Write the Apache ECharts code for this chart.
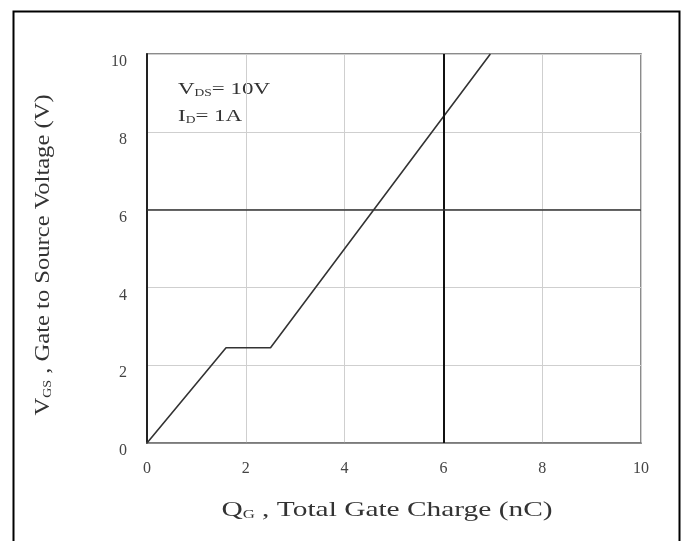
<!DOCTYPE html>
<html>
<head>
<meta charset="utf-8">
<script src="https://cdn.jsdelivr.net/npm/echarts@6/dist/echarts.min.js"></script>
<style>
  html, body { margin: 0; padding: 0; background: #fff; }
  #chart { width: 683px; height: 541px; }
</style>
</head>
<body>
<div id="chart"></div>
<script>
// Gate charge curve: V_GS versus total gate charge Q_G
const gateCharge = [0, 1.6, 2.5, 6.95];      // nC
const gateVoltage = [0, 2.45, 2.45, 10];      // V
const xTicks = [0, 2, 4, 6, 8, 10];
const yTicks = [0, 2, 4, 6, 8, 10];
// Reference lines drawn heavier than the grid
const markX = [6];
const markY = [6];

const serif = '"Liberation Serif", "DejaVu Serif", serif';

const chart = echarts.init(document.getElementById('chart'));

const subRich = (size, sub) => ({
  m: { fontFamily: serif, fontSize: size, fill: '#333' },
  s: { fontFamily: serif, fontSize: sub, fill: '#333', verticalAlign: 'bottom', padding: [Math.round(size * 0.4), 0, 0, 0] }
});

chart.setOption({
  animation: false,
  backgroundColor: '#fff',
  grid: {
    left: 147, right: 42, top: 54, bottom: 98,
    show: true, borderColor: '#666', borderWidth: 1.5
  },
  xAxis: {
    type: 'value', min: xTicks[0], max: xTicks[xTicks.length - 1], interval: 2,
    axisLine: { show: true, lineStyle: { color: '#777', width: 1.5 } },
    axisTick: { show: false },
    axisLabel: {
      margin: 18, fontFamily: serif, fontSize: 16, color: '#444',
      formatter: v => String(v)
    },
    splitLine: { show: true, lineStyle: { color: '#cfcfcf', width: 1 } }
  },
  yAxis: {
    type: 'value', min: yTicks[0], max: yTicks[yTicks.length - 1], interval: 2,
    axisLine: { show: true, lineStyle: { color: '#222', width: 2 } },
    axisTick: { show: false },
    axisLabel: {
      margin: 20, fontFamily: serif, fontSize: 16, color: '#444',
      verticalAlign: 'top',
      formatter: v => String(v)
    },
    splitLine: { show: true, lineStyle: { color: '#cfcfcf', width: 1 } }
  },
  series: [{
    type: 'line',
    data: gateCharge.map((q, i) => [q, gateVoltage[i]]),
    showSymbol: false,
    lineStyle: { color: '#333', width: 1.6 },
    silent: true,
    markLine: {
      silent: true,
      symbol: 'none',
      label: { show: false },
      data: [
        ...markX.map(v => ({ xAxis: v, lineStyle: { color: '#111', width: 2, type: 'solid' } })),
        ...markY.map(v => ({ yAxis: v, lineStyle: { color: '#333', width: 1.6, type: 'solid' } }))
      ]
    }
  }],
  graphic: [
    {
      type: 'rect', left: 11, top: 9, silent: true,
      shape: { width: 666, height: 560 },
      style: { fill: 'none', stroke: '#000', lineWidth: 2 }
    },
    // x-axis title, set in a wide serif
    {
      type: 'text', x: 387, y: 510, scaleX: 1.4, silent: true,
      style: {
        text: '{m|Q}{s|G}{m| , Total Gate Charge (nC)}',
        align: 'center', verticalAlign: 'middle',
        rich: subRich(21, 12)
      }
    },
    // y-axis title, rotated
    {
      type: 'text', x: 43, y: 255, rotation: Math.PI / 2, scaleX: 1.17, silent: true,
      style: {
        text: '{m|V}{s|GS}{m| , Gate to Source Voltage (V)}',
        align: 'center', verticalAlign: 'middle',
        rich: subRich(21, 12)
      }
    },
    {
      type: 'text', x: 178, y: 90, scaleX: 1.35, silent: true,
      style: { text: '{m|V}{s|DS}{m|= 10V}', verticalAlign: 'middle', rich: subRich(17, 10) }
    },
    {
      type: 'text', x: 178, y: 117, scaleX: 1.35, silent: true,
      style: { text: '{m|I}{s|D}{m|= 1A}', verticalAlign: 'middle', rich: subRich(17, 10) }
    }
  ]
});
</script>
</body>
</html>
